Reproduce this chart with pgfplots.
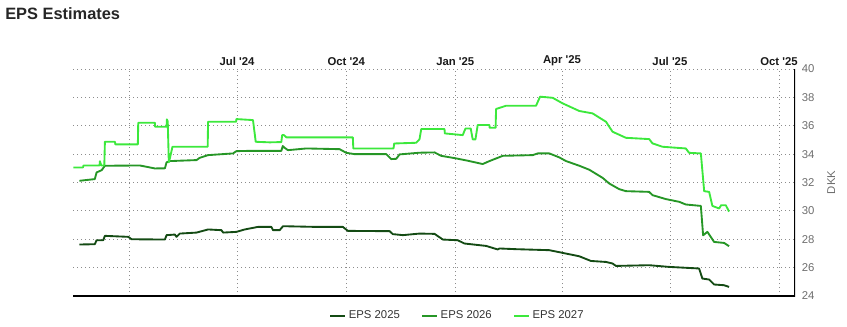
\documentclass[border=0pt]{standalone}
\usepackage{pgfplots}
\pgfplotsset{compat=1.18}
\usepackage{fontspec}
\setmainfont{Liberation Sans}
\definecolor{epsA}{RGB}{20,75,20}
\definecolor{epsB}{RGB}{38,150,38}
\definecolor{epsC}{RGB}{60,232,60}
\definecolor{tickgray}{RGB}{110,110,110}
\begin{document}
\begin{tikzpicture}
\path[use as bounding box] (0,0) rectangle (635.25pt,244.5pt);
\node[anchor=base west,font=\bfseries\fontsize{12.3pt}{14pt}\selectfont,text=black!85,inner sep=0] at (3.75pt,229.5pt) {EPS Estimates};
\begin{axis}[
  scale only axis,
  width=541.5pt, height=170.25pt,
  at={(54.75pt,22.5pt)}, anchor=south west,
  xmin=43.6, xmax=652.5, ymin=24, ymax=40,
  axis line style={draw=none},
  xtick={91,182,274,366,456,547,639},
  xticklabels={,Jul \textquotesingle24,Oct \textquotesingle24,Jan \textquotesingle25,Apr \textquotesingle25,Jul \textquotesingle25,Oct \textquotesingle25},
  xticklabel pos=upper,
  ytick={24,26,28,30,32,34,36,38,40},
  yticklabel pos=right,
  major tick length=0pt,
  xticklabel style={font=\bfseries\fontsize{8.5pt}{10pt}\selectfont, text=black!90, inner sep=2pt},
  yticklabel style={font=\fontsize{8.5pt}{10pt}\selectfont, text=tickgray, inner sep=2pt, xshift=3pt},
  /pgf/number format/assume math mode=true,
  ylabel={DKK},
  ylabel near ticks,
  ylabel style={font=\fontsize{8.5pt}{10pt}\selectfont, text=tickgray, yshift=-4pt},
  grid=major,
  major grid style={dash pattern=on 0.75pt off 2.25pt, draw=black!45, line width=0.6pt},
  legend columns=3,
  legend style={at={(0.533,-0.088)}, anchor=center, draw=none, fill=none,
    font=\fontsize{8.5pt}{10pt}\selectfont, text=black!80,
    /tikz/every even column/.append style={column sep=14pt}},
  legend image code/.code={\draw[#1, line width=1.6pt] (0pt,0pt) -- (11pt,0pt);},
  every axis plot/.append style={line width=1.4pt, line join=round},
]
\addplot[color=epsA, mark=none] coordinates {
(49,27.63) (62,27.65) (63.5,27.93) (69.1,27.93) (70.5,28.24) (90.2,28.17) (93,28.0)
(121.1,27.98) (122.5,28.29) (129.5,28.33) (130.9,28.17) (133.7,28.4) (147.8,28.47)
(157.5,28.69) (168.8,28.64) (170.2,28.47) (181.4,28.52) (188.4,28.69) (199.6,28.87)
(210.9,28.87) (212.3,28.64) (217.9,28.64) (220.7,28.92) (248.8,28.87) (271.2,28.87)
(275.4,28.59) (310.6,28.57) (313.3,28.36) (321.8,28.29) (335.8,28.4) (348.5,28.38)
(355.5,27.98) (368.1,27.93) (373.7,27.7) (392,27.53) (401.8,27.28) (403.2,27.35)
(417.3,27.30) (445.3,27.23) (456.5,27.04) (470.6,26.8) (480.4,26.47) (493.1,26.40)
(498.6,26.29) (501.5,26.12) (529.5,26.17) (546.4,26.05) (571.6,25.94) (574.4,25.23)
(580.1,25.16) (584.3,24.81) (592.7,24.76) (596.9,24.64)
};
\addlegendentry{EPS 2025}
\addplot[color=epsB, mark=none] coordinates {
(49,32.12) (62,32.24) (63.5,32.71) (67.8,32.87) (70.5,33.18) (100,33.2) (112.6,32.99)
(121.1,33.0) (122.5,33.42) (125.3,33.51) (147.8,33.58) (150.5,33.74) (157.5,33.93)
(178.6,34.05) (181.4,34.21) (192.7,34.23) (219.3,34.23) (220.5,34.57) (222,34.45)
(224.9,34.28) (240.4,34.40) (268.4,34.35) (274.1,34.09) (281.1,34.0) (307.8,34.0)
(312,33.65) (316.2,33.67) (319,33.98) (335.8,34.1) (348.5,34.12) (354.1,33.88)
(366.7,33.7) (377.9,33.51) (389.1,33.3) (394.8,33.51) (401.8,33.74) (406,33.88)
(431.3,33.93) (435.5,34.05) (445.3,34.05) (453.7,33.77) (459.4,33.51) (470.6,33.18)
(479,32.9) (490.2,32.33) (495.8,31.93) (504.3,31.53) (509.9,31.39) (529.5,31.34)
(532.3,31.11) (543.6,30.83) (554.8,30.64) (560.4,30.45) (573.1,30.35) (575,28.28)
(578.6,28.52) (584.3,27.81) (592.7,27.74) (596.9,27.51)
};
\addlegendentry{EPS 2026}
\addplot[color=epsC, mark=none] coordinates {
(44,33.06) (52,33.06) (52.5,33.2) (66,33.2) (66.3,33.5) (67.5,33.2) (70,33.2)
(70.5,34.87) (79,34.87) (79.3,34.69) (98.3,34.69) (98.6,36.21) (112.6,36.21)
(112.9,35.93) (122.5,35.93) (122.8,36.45) (123.5,36.3) (124.4,33.42) (125,33.6)
(127.5,34.52) (157.2,34.52) (157.5,36.28) (181.1,36.28) (181.4,36.47) (195.4,36.40)
(197.7,34.87) (209.5,34.83) (219.3,34.85) (220,35.34) (221.5,35.34) (223.6,35.18)
(279.6,35.18) (280,34.40) (313.9,34.40) (314.5,34.75) (333,34.8) (335.8,35.04)
(337.3,35.77) (356.9,35.77) (357.2,35.46) (372.3,35.34) (374.6,35.81) (379,35.81)
(380.7,35.04) (383,35.04) (384.9,36.05) (394.8,36.05) (395,35.86) (400,35.86)
(400.4,37.18) (408.8,37.41) (434.1,37.41) (437.5,38.05) (448.1,37.97) (456.5,37.58)
(470.6,37.04) (481.8,36.87) (493.1,36.28) (498.6,35.58) (509.9,35.15) (529.5,35.06)
(532.3,34.76) (540.7,34.52) (560.4,34.40) (563.2,34.09) (573.1,34.05) (575.9,31.39)
(580.1,31.34) (582.8,30.35) (588.5,30.17) (590.2,30.40) (594.1,30.40) (596.9,29.95)
};
\addlegendentry{EPS 2027}
\draw[line width=2.2pt, black] (rel axis cs:0,0) -- (rel axis cs:1,0);
\draw[line width=1.6pt, black] (rel axis cs:1,-0.005) -- (rel axis cs:1,1);
\end{axis}
\end{tikzpicture}
\end{document}
